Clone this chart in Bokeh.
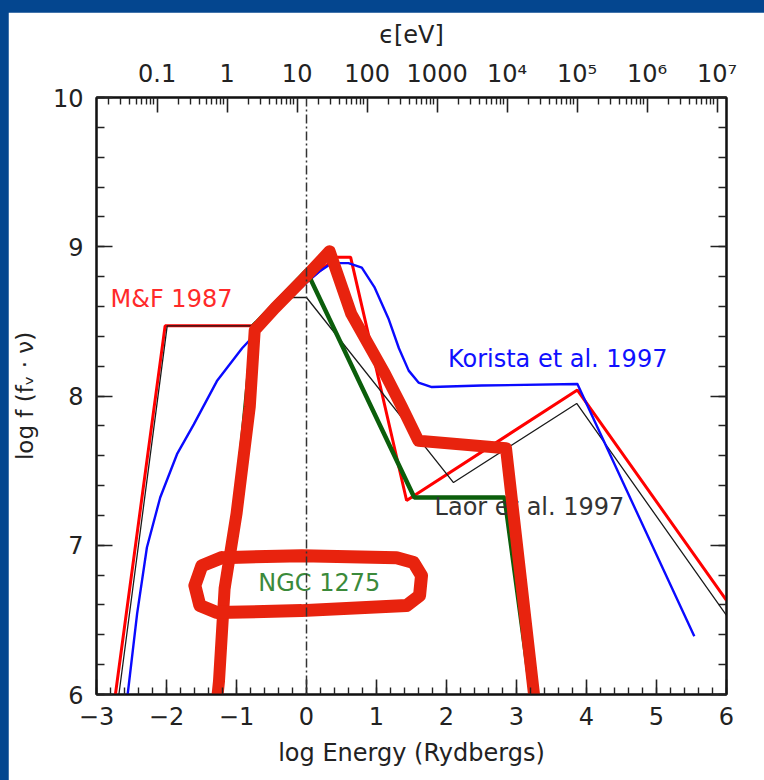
import numpy as np
from bokeh.plotting import figure
from bokeh.models import (Range1d, LinearAxis, SingleIntervalTicker, FixedTicker,
                          Span, ColumnDataSource, Spacer)
from bokeh.layouts import column, row
from bokeh.core.properties import value
from bokeh.embed import file_html
from bokeh.resources import INLINE

# ---------------- data (log Energy [Ryd], log f) ----------------
mf_x = [-2.73, -2.02, -0.78, 0.43, 0.63, 1.43, 3.87, 6.0]
mf_y = [6.0, 8.47, 8.47, 8.93, 8.93, 7.30, 8.04, 6.63]

laor_x = [-2.68, -1.99, -0.78, -0.21, 0.0, 2.10, 3.86, 6.0]
laor_y = [6.0, 8.47, 8.47, 8.66, 8.66, 7.42, 7.95, 6.53]

korista_x = [-2.555, -2.42, -2.28, -2.09, -1.85, -1.61, -1.28, -0.92, -0.78, -0.5,
             -0.2, 0.0, 0.2, 0.36, 0.60, 0.79, 0.97, 1.17, 1.32, 1.46, 1.60, 1.79,
             2.5, 3.87, 5.54]
korista_y = [6.0, 6.54, 6.985, 7.32, 7.61, 7.81, 8.10, 8.32, 8.39, 8.53,
             8.67, 8.76, 8.84, 8.89, 8.89, 8.86, 8.73, 8.52, 8.32, 8.17, 8.09, 8.06,
             8.07, 8.08, 6.39]

ngc_x = [-1.27, -0.76, 0.0, 1.54, 2.83, 3.21]
ngc_y = [6.0, 8.47, 8.84, 7.32, 7.32, 6.0]

# hand-drawn annotation (sketched SED and loop round the label)
sketch_x = [-1.27, -1.25, -1.17, -1.0, -0.81, -0.74, -0.45, -0.03, 0.33, 0.64,
            1.12, 1.36, 1.60, 2.85, 3.25]
sketch_y = [6.0, 6.09, 6.71, 7.21, 7.93, 8.44, 8.59, 8.79, 8.97, 8.55,
            8.15, 7.93, 7.70, 7.65, 6.0]
loop_x = [-1.21, -0.069, 1.287, 1.53, 1.643, 1.615, 1.429, -0.069, -1.281, -1.524,
          -1.595, -1.495, -1.21]
loop_y = [6.917, 6.93, 6.917, 6.884, 6.797, 6.663, 6.596, 6.562, 6.549, 6.596,
          6.73, 6.863, 6.917]

label_text = ["M&F 1987", "Korista et al. 1997", "Laor et al. 1997", "NGC 1275"]
label_x = [-2.80, 2.02, 1.83, -0.69]
label_y = [8.65, 8.25, 7.255, 6.75]
label_color = ["#ff2a2a", "#1010ff", "#333333", "#3b8a3b"]

x_ticks = list(range(-3, 7))
y_ticks = list(range(6, 11))
ev_major = list(range(-1, 8))
ev_labels = ["0.1", "1", "10", "100", "1000", "10\u2074", "10\u2075", "10\u2076", "10\u2077"]
LOG_RYD_EV = float(np.log10(13.6057))

X_RANGE = (-3, 6)
Y_RANGE = (6, 10)

FONT = "DejaVu Sans"
BLUE_BG = "#04468f"

p = figure(width=756, height=768, x_range=Range1d(*X_RANGE), y_range=Range1d(*Y_RANGE),
           output_backend="svg", toolbar_location=None,
           min_border_left=86, min_border_right=38, min_border_top=85, min_border_bottom=86,
           background_fill_color="white", border_fill_color="white")
p.grid.visible = False
p.outline_line_color = "black"
p.outline_line_width = 2

def style_axis(ax, tin, tmin):
    ax.axis_line_width = 2
    ax.axis_line_color = "#111111"
    ax.major_tick_in = tin
    ax.major_tick_out = 0
    ax.minor_tick_in = tmin
    ax.minor_tick_out = 0
    ax.major_tick_line_width = 1.6
    ax.minor_tick_line_width = 1.4
    ax.major_tick_line_color = "#222222"
    ax.minor_tick_line_color = "#222222"
    ax.major_label_text_font = FONT
    ax.major_label_text_font_size = "24px"
    ax.major_label_text_color = "#222222"
    ax.axis_label_text_font = FONT
    ax.axis_label_text_font_style = "normal"
    ax.axis_label_text_color = "#222222"

# bottom axis
xa = p.xaxis[0]
xa.ticker = SingleIntervalTicker(interval=1, num_minor_ticks=5)
xa.major_label_overrides = {t: (("\u2212" + str(-t)) if t < 0 else str(t)) for t in x_ticks}
style_axis(xa, 15, 7)
xa.major_label_standoff = 12
xa.axis_label = "log Energy (Rydbergs)"
xa.axis_label_text_font_size = "24px"
xa.axis_label_standoff = 11

# left axis
ya = p.yaxis[0]
ya.ticker = SingleIntervalTicker(interval=1, num_minor_ticks=5)
style_axis(ya, 16, 8)
ya.major_label_standoff = 13
ya.axis_label = "log f (f\u1d65 \u00b7 \u03bd)"
ya.axis_label_text_font_size = "23px"
ya.axis_label_standoff = 12

# right axis (ticks only)
ra = LinearAxis(ticker=SingleIntervalTicker(interval=1, num_minor_ticks=5))
style_axis(ra, 16, 8)
ra.major_label_overrides = {t: "" for t in y_ticks}
p.add_layout(ra, "right")

# top axis in eV
p.extra_x_ranges = {"ev": Range1d(X_RANGE[0] + LOG_RYD_EV, X_RANGE[1] + LOG_RYD_EV)}
ev_minor = [float(np.log10(k) + n) for n in range(-2, 8) for k in range(2, 10)
            if X_RANGE[0] + LOG_RYD_EV < np.log10(k) + n < X_RANGE[1] + LOG_RYD_EV]
ta = LinearAxis(x_range_name="ev", ticker=FixedTicker(ticks=ev_major, minor_ticks=ev_minor))
style_axis(ta, 15, 7)
ta.major_label_overrides = {t: lab for t, lab in zip(ev_major, ev_labels)}
ta.major_label_standoff = 10
ta.axis_label = "\u03f5[eV]"
ta.axis_label_text_font_size = "24px"
ta.axis_label_standoff = 8
p.add_layout(ta, "above")

# vertical dash-dot line at 1 Ryd
p.add_layout(Span(location=0, dimension="height", line_color="#333333",
                  line_width=1.5, line_dash="9 3 2 3"))

# curves
p.line(mf_x, mf_y, line_color="#ff0000", line_width=3)
p.line(laor_x, laor_y, line_color="#1a1a1a", line_width=1.3)
p.line(korista_x, korista_y, line_color="#0a0aff", line_width=2.4, line_join="round")
p.line(ngc_x, ngc_y, line_color="#0b5e0b", line_width=4.5)

src = ColumnDataSource(dict(x=label_x, y=label_y, t=label_text, c=label_color))
p.text(x="x", y="y", text="t", text_color="c", source=src,
       text_font=value(FONT), text_font_size="24px",
       text_align="left", text_baseline="middle")

# hand-drawn red annotation
p.line(sketch_x, sketch_y, line_color="#e8230e", line_width=12,
       line_join="round", line_cap="round")
p.line(loop_x, loop_y, line_color="#e8230e", line_width=13,
       line_join="round", line_cap="round")

layout = column(Spacer(height=12, width=764),
                row(Spacer(width=8, height=768), p, spacing=0),
                spacing=0, styles={"background-color": BLUE_BG})

open("out.html", "w").write(file_html(layout, INLINE))
